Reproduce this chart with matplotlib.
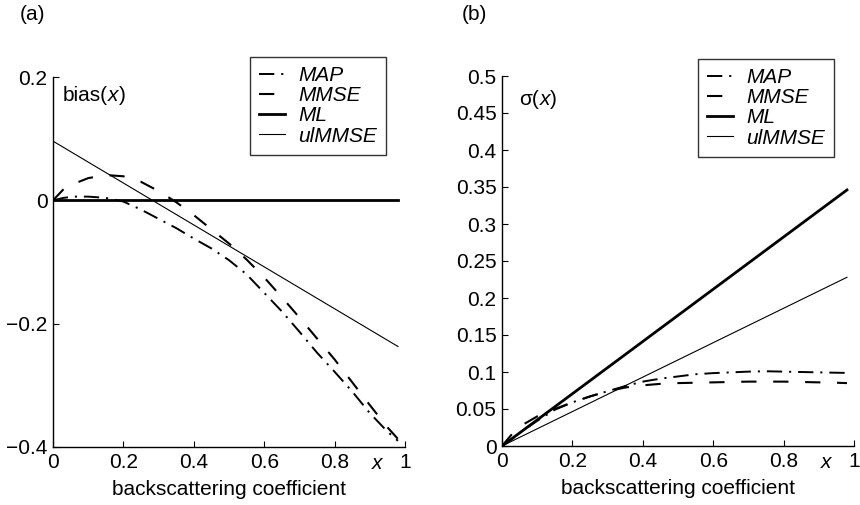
import numpy as np
import matplotlib
matplotlib.use("Agg")
import matplotlib.pyplot as plt
import matplotlib.transforms as mtransforms

plt.rcParams['font.family'] = ['Liberation Sans', 'DejaVu Sans']
plt.rcParams['font.size'] = 15
plt.rcParams['lines.scale_dashes'] = False

# sample positions along the backscattering coefficient
x_pts = [0, 0.03, 0.06, 0.1, 0.15, 0.2, 0.25, 0.3, 0.35, 0.4, 0.45, 0.5,
         0.55, 0.6, 0.65, 0.7, 0.75, 0.8, 0.85, 0.9, 0.95, 0.98]

# (a) bias(x)
bias_map = [0, 0.004, 0.006, 0.006, 0.004, -0.002, -0.015, -0.030, -0.045, -0.062,
            -0.078, -0.097, -0.120, -0.150, -0.180, -0.213, -0.247, -0.278, -0.310,
            -0.345, -0.375, -0.390]
bias_mmse = [0, 0.018, 0.027, 0.036, 0.041, 0.039, 0.030, 0.015, -0.003, -0.024,
             -0.047, -0.070, -0.096, -0.125, -0.157, -0.190, -0.224, -0.258, -0.295,
             -0.332, -0.368, -0.387]
line_x = [0, 0.98]
bias_ml = [0, 0]
bias_ulmmse = [0.096, -0.237]

# (b) sigma(x)
sig_map = [0, 0.010, 0.021, 0.034, 0.049, 0.059, 0.067, 0.074, 0.081, 0.087, 0.091,
           0.094, 0.097, 0.0985, 0.0995, 0.1005, 0.101, 0.1005, 0.100, 0.0995, 0.099,
           0.0988]
sig_mmse = [0, 0.017, 0.029, 0.040, 0.050, 0.059, 0.067, 0.074, 0.079, 0.082, 0.084,
            0.085, 0.0855, 0.086, 0.0865, 0.087, 0.087, 0.087, 0.0865, 0.086, 0.0855,
            0.085]
sig_ml = [0, 0.346]
sig_ulmmse = [0, 0.228]

labels = ['MAP', 'MMSE', 'ML', 'ulMMSE']
x_ticks = [0, 0.2, 0.4, 0.6, 0.8, 1]
x_ticklabels = ['0', '0.2', '0.4', '0.6', '0.8', '1']
bias_ticks = [-0.4, -0.2, 0, 0.2]
bias_ticklabels = ['\u22120.4', '\u22120.2', '0', '0.2']
sig_ticks = [0, 0.05, 0.1, 0.15, 0.2, 0.25, 0.3, 0.35, 0.4, 0.45, 0.5]

fig = plt.figure(figsize=(8.6, 5.05), dpi=100)
ax_a = fig.add_axes([53/860, 58/505, 352/860, 370/505])
ax_b = fig.add_axes([502/860, 59/505, 352/860, 370/505])


def draw_panel(ax, y_map, y_mmse, y_ml, y_ul):
    ax.plot(x_pts, y_map, color='black', lw=1.4, dashes=(11, 5, 1.5, 5), label=labels[0])
    ax.plot(x_pts, y_mmse, color='black', lw=1.5, dashes=(11, 12), label=labels[1])
    ax.plot(line_x, y_ml, color='black', lw=2.0, label=labels[2])
    ax.plot(line_x, y_ul, color='black', lw=0.8, label=labels[3])
    for s in ['top', 'right']:
        ax.spines[s].set_visible(False)
    for s in ['left', 'bottom']:
        ax.spines[s].set_linewidth(1.0)
    ax.tick_params(direction='in', length=4, width=0.8, pad=4)
    ax.set_xlim(0, 1)
    ax.set_xticks(x_ticks)
    ax.set_xticklabels(x_ticklabels)
    ax.set_xlabel('backscattering coefficient', labelpad=6)
    trans = mtransforms.blended_transform_factory(ax.transData, ax.transAxes)
    ax.text(0.92, -0.045, 'x', style='italic', transform=trans, ha='center', va='center')


# inline y labels, built from pieces so only x is italic
def inline_label(ax, x0, y0, head):
    t = ax.text(x0, y0, head, transform=ax.transAxes, ha='left', va='center')
    fig.canvas.draw()
    inv = ax.transAxes.inverted()
    x1 = inv.transform((t.get_window_extent().x1, 0))[0]
    t2 = ax.text(x1, y0, 'x', style='italic', transform=ax.transAxes, ha='left', va='center')
    fig.canvas.draw()
    x2 = inv.transform((t2.get_window_extent().x1, 0))[0]
    ax.text(x2, y0, ')', transform=ax.transAxes, ha='left', va='center')


draw_panel(ax_a, bias_map, bias_mmse, bias_ml, bias_ulmmse)
ax_a.set_ylim(-0.4, 0.2)
ax_a.set_yticks(bias_ticks)
ax_a.set_yticklabels(bias_ticklabels)

draw_panel(ax_b, sig_map, sig_mmse, sig_ml, sig_ulmmse)
ax_b.set_ylim(0, 0.5)
ax_b.set_yticks(sig_ticks)
ax_b.set_yticklabels(['%g' % v for v in sig_ticks])

inline_label(ax_a, 0.028, 0.95, 'bias(')
inline_label(ax_b, 0.05, 0.936, '\u03c3(')

legend_kw = dict(loc='upper left', frameon=True, fancybox=False, handlelength=1.25,
                 handletextpad=0.6, labelspacing=0.05, borderpad=0.45,
                 borderaxespad=0, prop={'style': 'italic', 'size': 15})
for ax, (lx, ly) in [(ax_a, (250, 57)), (ax_b, (698, 59))]:
    leg = ax.legend(bbox_to_anchor=(lx/860, 1 - ly/505), bbox_transform=fig.transFigure,
                    **legend_kw)
    leg.get_frame().set_edgecolor('black')
    leg.get_frame().set_linewidth(1.0)

fig.text(20/860, 1 - 15/505, '(a)', ha='left', va='center')
fig.text(462/860, 1 - 15/505, '(b)', ha='left', va='center')

fig.savefig('out.png', dpi=100)
